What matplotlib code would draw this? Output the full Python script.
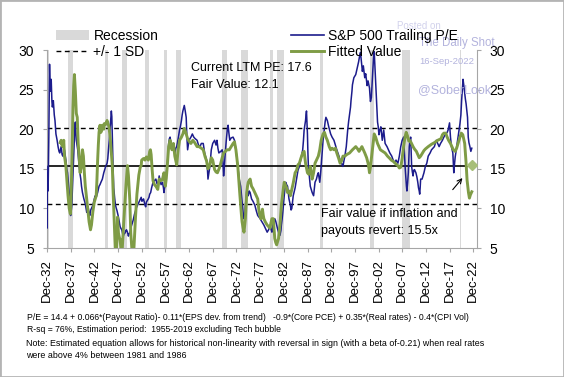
import numpy as np
import matplotlib
matplotlib.use("Agg")
import matplotlib.pyplot as plt
from matplotlib.patches import Patch, Rectangle
from matplotlib.lines import Line2D

plt.rcParams['font.family'] = ['Liberation Sans', 'DejaVu Sans']

# ---------------- data ----------------
pe_years = [1932.87, 1932.9, 1932.95, 1933.05, 1933.15, 1933.3, 1933.45, 1933.55, 1933.65, 1933.8,
            1933.95, 1934.05, 1934.25, 1934.45, 1934.6, 1934.8, 1935.05, 1935.25, 1935.45, 1935.6,
            1935.9, 1936.1, 1936.25, 1936.6, 1936.9, 1937.1, 1937.25, 1937.45, 1937.6, 1937.75,
            1937.9, 1938.05, 1938.15, 1938.3, 1938.4, 1938.55, 1938.65, 1938.8, 1938.9, 1939.0,
            1939.1, 1939.25, 1939.4, 1939.55, 1939.7, 1939.85, 1940.05, 1940.2, 1940.4, 1940.55,
            1940.7, 1940.9, 1941.05, 1941.3, 1941.45, 1941.6, 1941.8, 1941.95, 1942.15, 1942.3,
            1942.6, 1942.9, 1943.1, 1943.3, 1943.6, 1943.9, 1944.1, 1944.3, 1944.6, 1944.9,
            1945.1, 1945.3, 1945.6, 1945.75, 1945.9, 1946.05, 1946.2, 1946.35, 1946.5, 1946.6,
            1946.7, 1946.85, 1947.0, 1947.2, 1947.35, 1947.5, 1947.7, 1947.85, 1948.0, 1948.2,
            1948.35, 1948.5, 1948.7, 1948.85, 1949.0, 1949.2, 1949.4, 1949.55, 1949.7, 1949.9,
            1950.1, 1950.25, 1950.4, 1950.55, 1950.7, 1950.9, 1951.1, 1951.25, 1951.4, 1951.6,
            1951.8, 1952.1, 1952.4, 1952.6, 1952.8, 1952.95, 1953.1, 1953.3, 1953.45, 1953.6,
            1953.75, 1953.9, 1954.1, 1954.3, 1954.45, 1954.6, 1954.8, 1955.0, 1955.3, 1955.6,
            1955.9, 1956.1, 1956.3, 1956.6, 1956.8, 1957.0, 1957.3, 1957.5, 1957.6, 1957.8,
            1957.9, 1958.1, 1958.3, 1958.45, 1958.6, 1958.75, 1958.9, 1959.1, 1959.3, 1959.6,
            1959.9, 1960.1, 1960.3, 1960.6, 1960.9, 1961.1, 1961.3, 1961.45, 1961.6, 1961.8,
            1961.9, 1962.1, 1962.3, 1962.45, 1962.6, 1962.75, 1962.9, 1963.1, 1963.3, 1963.6,
            1963.9, 1964.2, 1964.6, 1964.9, 1965.2, 1965.5, 1965.9, 1966.2, 1966.6, 1966.8,
            1966.9, 1967.1, 1967.3, 1967.6, 1967.9, 1968.3, 1968.6, 1968.8, 1969.0, 1969.2,
            1969.6, 1969.9, 1970.05, 1970.2, 1970.35, 1970.5, 1970.75, 1971.0, 1971.15, 1971.3,
            1971.5, 1971.8, 1972.2, 1972.5, 1972.8, 1973.0, 1973.2, 1973.5, 1973.8, 1973.95,
            1974.1, 1974.3, 1974.5, 1974.7, 1974.8, 1975.0, 1975.1, 1975.4, 1975.6, 1975.8,
            1976.1, 1976.4, 1976.8, 1977.1, 1977.4, 1977.8, 1978.1, 1978.4, 1978.7, 1979.0,
            1979.4, 1979.7, 1980.0, 1980.2, 1980.4, 1980.55, 1980.7, 1981.0, 1981.2, 1981.4,
            1981.6, 1981.8, 1982.1, 1982.3, 1982.4, 1982.55, 1982.7, 1982.85, 1983.0, 1983.15,
            1983.3, 1983.5, 1983.7, 1983.85, 1984.0, 1984.15, 1984.3, 1984.45, 1984.6, 1984.75,
            1984.9, 1985.3, 1985.6, 1985.9, 1986.2, 1986.5, 1986.9, 1987.05, 1987.2, 1987.35,
            1987.5, 1987.6, 1987.7, 1987.8, 1987.9, 1988.0, 1988.1, 1988.3, 1988.5, 1988.7,
            1988.9, 1989.2, 1989.35, 1989.5, 1989.8, 1990.0, 1990.2, 1990.5, 1990.65, 1990.8,
            1991.0, 1991.2, 1991.35, 1991.5, 1991.65, 1991.8, 1992.1, 1992.4, 1992.8, 1993.1,
            1993.5, 1993.8, 1994.1, 1994.5, 1994.8, 1995.1, 1995.4, 1995.6, 1995.8, 1996.1,
            1996.4, 1996.6, 1996.8, 1997.0, 1997.1, 1997.3, 1997.4, 1997.7, 1998.1, 1998.4,
            1998.7, 1998.9, 1999.1, 1999.3, 1999.5, 1999.7, 2000.0, 2000.2, 2000.5, 2000.7,
            2001.0, 2001.2, 2001.4, 2001.55, 2001.7, 2001.85, 2002.0, 2002.1, 2002.25, 2002.4,
            2002.55, 2002.7, 2002.85, 2003.0, 2003.2, 2003.4, 2003.7, 2004.0, 2004.3, 2004.7,
            2005.0, 2005.3, 2005.7, 2006.0, 2006.3, 2006.6, 2007.0, 2007.3, 2007.6, 2007.9,
            2008.2, 2008.3, 2008.4, 2008.55, 2008.7, 2008.8, 2008.9, 2009.05, 2009.2, 2009.3,
            2009.4, 2009.55, 2009.7, 2009.8, 2009.9, 2010.05, 2010.2, 2010.35, 2010.5, 2010.8,
            2011.0, 2011.2, 2011.35, 2011.5, 2011.6, 2011.7, 2011.8, 2012.1, 2012.5, 2012.8,
            2013.1, 2013.4, 2013.8, 2014.1, 2014.4, 2014.7, 2015.1, 2015.4, 2015.7, 2016.0,
            2016.4, 2016.7, 2017.1, 2017.4, 2017.6, 2017.9, 2018.1, 2018.3, 2018.6, 2018.8,
            2018.95, 2019.1, 2019.4, 2019.7, 2020.1, 2020.3, 2020.45, 2020.6, 2020.75, 2020.9,
            2021.1, 2021.25, 2021.4, 2021.55, 2021.7, 2021.85, 2022.0, 2022.2, 2022.4, 2022.6]
pe_values = [15.3, 7.5, 12.5, 14.5, 12.2, 19.0, 28.2, 25.5, 24.8, 26.3,
             23.5, 22.8, 23.6, 21.8, 21.1, 19.4, 18.6, 17.8, 17.2, 17.0,
             17.8, 16.8, 16.6, 17.4, 16.1, 15.0, 14.5, 13.0, 12.0, 10.5,
             9.1, 9.8, 10.4, 12.8, 14.5, 17.0, 18.6, 20.5, 20.9, 19.8,
             18.6, 18.0, 17.4, 16.3, 15.3, 14.5, 13.7, 12.8, 12.0, 11.6,
             11.2, 10.8, 10.4, 9.5, 10.0, 10.2, 9.3, 9.1, 9.8, 10.0,
             10.4, 11.2, 11.6, 11.4, 12.0, 12.8, 13.0, 13.3, 13.7, 14.5,
             14.9, 15.3, 15.7, 16.3, 17.4, 18.6, 19.9, 21.2, 22.3, 21.6,
             19.0, 15.5, 12.6, 11.3, 10.5, 10.1, 9.7, 9.3, 8.9, 8.2,
             7.7, 7.5, 7.3, 6.9, 6.5, 6.8, 6.9, 7.2, 7.3, 7.0,
             6.5, 6.8, 6.9, 7.3, 7.7, 8.1, 8.5, 8.9, 9.3, 9.7,
             10.1, 10.5, 10.9, 11.2, 11.4, 10.9, 11.0, 11.2, 10.8, 10.4,
             10.2, 10.8, 11.0, 11.2, 11.4, 11.8, 12.0, 12.6, 13.3, 13.5,
             13.7, 13.2, 12.9, 14.1, 13.5, 13.0, 13.3, 12.6, 12.0, 12.8,
             13.7, 14.5, 15.3, 16.8, 18.2, 18.8, 19.0, 18.2, 17.6, 17.8,
             17.0, 17.6, 17.8, 18.8, 19.9, 20.4, 21.1, 21.8, 22.3, 22.8,
             23.0, 22.3, 21.5, 19.0, 17.4, 18.0, 18.6, 18.8, 19.0, 19.4,
             19.0, 18.8, 18.6, 18.0, 17.8, 18.2, 18.2, 17.0, 16.1, 14.8,
             13.7, 14.5, 15.3, 17.4, 18.2, 18.6, 18.0, 18.6, 17.6, 17.0,
             17.2, 17.4, 16.0, 14.1, 15.2, 16.6, 18.5, 20.1, 20.5, 19.6,
             18.6, 18.9, 19.0, 18.6, 17.4, 16.3, 15.3, 13.7, 12.8, 11.8,
             10.8, 9.6, 8.7, 9.2, 10.4, 11.5, 12.4, 11.6, 12.2, 12.0,
             11.2, 10.9, 10.4, 9.7, 9.1, 8.8, 8.5, 8.2, 7.9, 7.5,
             7.0, 7.3, 7.9, 7.4, 7.0, 7.6, 8.3, 8.7, 8.4, 7.9,
             7.4, 7.0, 6.6, 7.2, 7.9, 8.6, 9.5, 10.6, 11.6, 12.5,
             13.3, 13.0, 12.8, 12.0, 11.2, 10.8, 10.4, 9.8, 10.0, 10.8,
             11.6, 12.6, 13.7, 14.8, 15.3, 16.2, 17.4, 18.5, 19.9, 20.5,
             21.1, 21.8, 22.3, 20.8, 19.4, 17.0, 15.3, 14.0, 12.8, 12.4,
             12.0, 11.6, 12.5, 13.3, 13.7, 14.2, 14.5, 13.3, 14.2, 15.3,
             17.0, 18.6, 19.4, 20.2, 21.0, 21.5, 21.1, 20.3, 19.4, 19.0,
             18.6, 18.0, 17.4, 16.7, 16.1, 15.7, 15.3, 16.0, 16.6, 17.8,
             19.9, 21.0, 21.9, 22.8, 23.6, 24.8, 25.6, 26.5, 26.9, 27.7,
             28.5, 29.2, 29.7, 28.5, 27.3, 28.0, 26.5, 27.0, 25.5, 26.1,
             25.2, 23.5, 24.0, 25.8, 27.4, 29.0, 29.8, 28.5, 26.5, 24.5,
             22.8, 20.9, 20.3, 19.3, 19.9, 20.3, 18.6, 19.9, 18.2, 17.8,
             17.4, 17.0, 16.6, 16.1, 15.7, 16.1, 15.7, 16.6, 17.8, 18.6,
             19.0, 17.8, 16.6, 15.0, 13.7, 12.8, 12.2, 13.2, 14.5, 16.0,
             17.8, 18.6, 19.0, 17.2, 15.3, 14.6, 14.1, 14.8, 14.9, 14.5,
             14.0, 13.3, 12.6, 12.2, 11.8, 12.6, 13.7, 13.7, 14.5, 15.3,
             15.7, 16.6, 17.0, 17.4, 17.6, 17.8, 18.6, 18.2, 17.8, 18.2,
             18.6, 19.0, 19.4, 19.6, 19.9, 20.8, 19.0, 17.8, 17.0, 14.5,
             15.6, 16.5, 17.8, 19.0, 20.7, 21.8, 23.6, 25.0, 26.3, 25.6,
             24.5, 23.8, 23.2, 22.4, 21.5, 19.0, 18.3, 17.8, 17.2, 17.6]

fit_years = [1935.7, 1935.9, 1936.1, 1936.25, 1936.45, 1936.6, 1936.75, 1936.9, 1937.1, 1937.35,
             1937.6, 1937.85, 1938.0, 1938.2, 1938.4, 1938.55, 1938.7, 1938.8, 1938.9, 1939.1,
             1939.3, 1939.5, 1939.7, 1939.9, 1940.05, 1940.2, 1940.4, 1940.6, 1940.8, 1941.0,
             1941.15, 1941.5, 1941.8, 1942.1, 1942.3, 1942.6, 1942.9, 1943.3, 1943.45, 1943.6,
             1943.75, 1943.9, 1944.1, 1944.3, 1944.6, 1944.9, 1945.0, 1945.3, 1945.6, 1945.8,
             1946.0, 1946.3, 1946.5, 1946.7, 1946.85, 1947.0, 1947.2, 1947.35, 1947.55, 1947.7,
             1947.8, 1947.9, 1948.0, 1948.2, 1948.35, 1948.55, 1948.75, 1948.95, 1949.1, 1949.35,
             1949.6, 1949.9, 1950.1, 1950.4, 1950.6, 1950.9, 1951.2, 1951.4, 1951.6, 1951.9,
             1952.3, 1952.6, 1952.8, 1952.9, 1953.3, 1953.6, 1953.9, 1954.3, 1954.6, 1954.75,
             1954.9, 1955.1, 1955.3, 1955.6, 1955.9, 1956.3, 1956.6, 1957.0, 1957.3, 1957.6,
             1957.9, 1958.1, 1958.3, 1958.6, 1958.9, 1959.3, 1959.6, 1959.9, 1960.3, 1960.6,
             1960.9, 1961.3, 1961.6, 1961.9, 1962.1, 1962.3, 1962.6, 1963.0, 1963.3, 1963.7,
             1964.1, 1964.6, 1965.0, 1965.5, 1965.9, 1966.3, 1966.6, 1966.9, 1967.3, 1967.6,
             1967.9, 1968.3, 1968.6, 1968.9, 1969.3, 1969.6, 1969.9, 1970.2, 1970.6, 1970.9,
             1971.4, 1971.8, 1972.2, 1972.5, 1972.8, 1973.0, 1973.2, 1973.35, 1973.5, 1973.65,
             1973.8, 1973.95, 1974.1, 1974.3, 1974.5, 1974.65, 1974.8, 1974.95, 1975.1, 1975.25,
             1975.4, 1975.6, 1975.8, 1976.1, 1976.4, 1976.8, 1977.1, 1977.4, 1977.55, 1977.7,
             1977.9, 1978.1, 1978.25, 1978.4, 1978.55, 1978.7, 1979.0, 1979.4, 1979.7, 1980.0,
             1980.2, 1980.4, 1980.7, 1980.85, 1981.0, 1981.2, 1981.4, 1981.6, 1981.8, 1982.1,
             1982.25, 1982.4, 1982.55, 1982.7, 1982.85, 1983.0, 1983.3, 1983.5, 1983.7, 1984.0,
             1984.3, 1984.6, 1984.9, 1985.3, 1985.6, 1985.9, 1986.2, 1986.5, 1986.9, 1987.2,
             1987.5, 1987.9, 1988.2, 1988.5, 1988.9, 1989.2, 1989.5, 1989.9, 1990.2, 1990.5,
             1990.8, 1991.2, 1991.5, 1991.8, 1992.1, 1992.5, 1992.8, 1993.1, 1993.5, 1993.8,
             1994.1, 1994.5, 1994.8, 1995.1, 1995.4, 1995.8, 1996.2, 1996.8, 1997.4, 1998.1,
             1998.5, 1998.8, 1999.1, 1999.4, 2000.0, 2000.4, 2000.7, 2000.9, 2001.0, 2001.2,
             2001.4, 2001.7, 2002.0, 2002.3, 2002.7, 2003.0, 2003.3, 2003.8, 2004.3, 2004.8,
             2005.3, 2005.6, 2006.1, 2006.6, 2007.0, 2007.3, 2007.6, 2007.9, 2008.2, 2008.5,
             2008.75, 2009.0, 2009.3, 2009.5, 2009.8, 2010.2, 2010.5, 2010.9, 2011.2, 2011.5,
             2011.8, 2012.1, 2012.5, 2012.8, 2013.4, 2014.1, 2014.7, 2015.4, 2016.1, 2016.4,
             2016.7, 2017.1, 2017.4, 2017.7, 2018.1, 2018.4, 2018.7, 2019.1, 2019.4, 2019.7,
             2020.1, 2020.4, 2020.7, 2021.1, 2021.4, 2021.6, 2021.9, 2022.1, 2022.3, 2022.6]
fit_values = [18.3, 18.6, 17.9, 17.8, 18.6, 16.6, 16.0, 15.3, 13.7, 11.6,
              10.0, 9.3, 11.6, 16.6, 22.8, 25.5, 26.9, 25.8, 24.8, 22.0,
              21.5, 18.2, 16.6, 14.5, 14.9, 15.3, 17.4, 16.6, 14.5, 12.8,
              12.0, 10.0, 8.3, 7.3, 7.9, 9.6, 10.8, 11.6, 13.5, 16.0,
              18.0, 19.6, 20.5, 19.6, 20.5, 20.0, 20.7, 20.6, 21.1, 20.7,
              20.3, 18.6, 17.0, 15.4, 12.5, 10.1, 7.0, 4.5, 4.2, 6.0,
              8.9, 7.8, 6.9, 6.3, 6.1, 4.6, 4.3, 6.5, 8.1, 10.5,
              13.0, 15.4, 14.2, 11.0, 6.9, 4.3, 4.2, 6.5, 8.9, 11.8,
              14.2, 15.2, 15.4, 16.1, 16.3, 16.1, 16.5, 16.1, 17.2, 17.4,
              16.8, 15.0, 13.5, 13.0, 12.8, 12.4, 13.7, 13.5, 13.7, 14.5,
              12.8, 13.8, 15.3, 17.8, 18.6, 17.4, 18.2, 16.6, 15.5, 17.4,
              18.6, 19.0, 19.4, 20.1, 19.8, 19.4, 18.8, 18.4, 18.2, 18.6,
              18.3, 17.8, 17.8, 17.6, 17.4, 16.5, 16.0, 15.0, 15.5, 16.4,
              16.1, 14.9, 14.6, 14.5, 15.1, 15.7, 16.4, 17.0, 17.2, 17.4,
              17.4, 17.8, 18.2, 18.4, 17.4, 16.4, 15.3, 14.0, 12.8, 11.6,
              10.4, 9.3, 8.3, 7.6, 7.0, 7.8, 8.7, 10.5, 12.0, 12.8,
              13.3, 13.5, 13.7, 12.8, 12.5, 12.0, 11.6, 11.2, 10.3, 9.5,
              9.0, 8.7, 9.4, 9.9, 9.2, 8.7, 8.3, 7.9, 7.7, 7.5,
              8.2, 8.7, 8.7, 7.4, 6.2, 5.7, 5.4, 5.8, 6.2, 7.9,
              9.2, 10.4, 11.2, 12.0, 12.7, 13.3, 12.9, 12.6, 12.0, 12.2,
              11.6, 12.4, 13.2, 14.5, 14.8, 15.5, 15.7, 16.3, 17.0, 17.2,
              15.7, 14.5, 14.3, 15.3, 13.7, 14.5, 15.7, 16.2, 16.6, 17.4,
              18.6, 19.4, 19.6, 19.0, 18.6, 17.8, 17.4, 17.6, 17.4, 17.6,
              17.0, 16.3, 15.7, 16.0, 16.6, 16.6, 16.8, 17.0, 17.4, 17.8,
              17.5, 17.2, 17.5, 17.8, 17.0, 16.4, 15.7, 15.0, 14.5, 15.2,
              16.3, 17.8, 19.4, 19.0, 18.2, 17.8, 17.4, 17.2, 17.0, 16.6,
              16.3, 16.1, 15.9, 15.6, 15.4, 15.1, 15.2, 16.3, 17.8, 19.0,
              19.6, 19.2, 18.5, 18.6, 18.3, 17.8, 17.5, 17.2, 16.8, 16.4,
              16.6, 16.9, 17.3, 17.5, 17.8, 18.1, 18.3, 18.6, 18.8, 19.3,
              19.5, 19.5, 19.0, 18.6, 18.2, 17.8, 17.4, 17.2, 17.6, 18.2,
              19.0, 19.5, 19.3, 18.2, 15.7, 13.6, 12.0, 11.3, 11.7, 12.1]

revert_year = 2022.6
revert_value = 15.5
pe_mean = 15.3
pe_sd = 4.8

recession_starts = ["1929-08", "1937-05", "1945-02", "1948-11", "1953-07", "1957-08", "1960-04",
                    "1969-12", "1973-11", "1980-01", "1981-07", "1990-07", "2001-03", "2007-12",
                    "2020-02"]
recession_ends = ["1933-03", "1938-06", "1945-10", "1949-10", "1954-05", "1958-04", "1961-02",
                  "1970-11", "1975-03", "1980-07", "1982-11", "1991-03", "2001-11", "2009-06",
                  "2020-04"]

tick_labels = ["Dec-32", "Dec-37", "Dec-42", "Dec-47", "Dec-52", "Dec-57", "Dec-62", "Dec-67",
               "Dec-72", "Dec-77", "Dec-82", "Dec-87", "Dec-92", "Dec-97", "Dec-02", "Dec-07",
               "Dec-12", "Dec-17", "Dec-22"]


def ym(s):
    y, m = s.split("-")
    return int(y) + (int(m) - 1) / 12.0


def tick_year(lbl):
    yy = int(lbl.split("-")[1])
    return (1900 + yy if yy >= 30 else 2000 + yy) + 11 / 12.0


# ---------------- figure ----------------
W, H = 564, 377
fig = plt.figure(figsize=(W / 100, H / 100), dpi=100)
ax = fig.add_axes([46.7 / W, 1 - 248 / H, (477 - 46.7) / W, 198 / H])

NAVY = "#1c1c8c"
GREEN = "#7f9c46"
GREYBAR = "#d9d9d9"
SPINE = "#a6a6a6"

for s, e in zip(recession_starts, recession_ends):
    ax.axvspan(ym(s), ym(e) + 1 / 12.0, color=GREYBAR, lw=0, zorder=0)

ax.axhline(pe_mean, color="black", lw=1.2, zorder=1)
ax.axhline(pe_mean + pe_sd, color="black", lw=1.0, ls=(0, (3.5, 2.5)), zorder=1)
ax.axhline(pe_mean - pe_sd, color="black", lw=1.0, ls=(0, (3.5, 2.5)), zorder=1)

ax.plot(pe_years, pe_values, color=NAVY, lw=1.1, zorder=3)
ax.plot(fit_years, fit_values, color=GREEN, lw=2.1, zorder=4)
ax.plot([revert_year], [revert_value], marker="D", color="#a7be78", ms=5, zorder=5)

ax.annotate("", xy=(2021.0, 14.1), xytext=(2018.2, 12.1),
            arrowprops=dict(arrowstyle="->", color="black", lw=0.8, mutation_scale=8), zorder=6)

ax.set_xlim(1932.85, 2023.7)
ax.set_ylim(5, 30)

ax.set_xticks([tick_year(l) for l in tick_labels])
ax.set_xticklabels(tick_labels, rotation=90, fontsize=9.5)
ax.set_yticks([5, 10, 15, 20, 25, 30])
ax.tick_params(axis="y", which="both", left=True, right=True, labelleft=True, labelright=True,
               labelsize=10, length=3, color=SPINE, pad=4)
ax.tick_params(axis="y", which="both", right=True, pad=6)
ax.tick_params(axis="x", length=3, color=SPINE, pad=5, labelsize=9.5)
for side in ["left", "right", "bottom"]:
    ax.spines[side].set_color(SPINE)
ax.spines["top"].set_visible(False)

# annotations
ax.text(1963.4, 27.7, "Current LTM PE: 17.6", fontsize=9, va="center", ha="left")
ax.text(1963.4, 25.6, "Fair Value: 12.1", fontsize=9, va="center", ha="left")
ax.text(1990.8, 9.3, "Fair value if inflation and", fontsize=9, va="center", ha="left", zorder=7)
ax.text(1990.8, 7.1, "payouts revert: 15.5x", fontsize=9, va="center", ha="left", zorder=7)

# legends
h_left = [Patch(facecolor=GREYBAR, edgecolor="none"),
          Line2D([], [], color="black", lw=1.0, ls=(0, (3.5, 2.5)))]
leg1 = fig.legend(h_left, ["Recession", "+/- 1 SD"], loc="upper left",
                  bbox_to_anchor=(49 / W, 1 - 22 / H), frameon=False, fontsize=10,
                  handlelength=2.4, handletextpad=0.3, labelspacing=0.15, borderpad=0)
h_right = [Line2D([], [], color=NAVY, lw=1.2), Line2D([], [], color=GREEN, lw=2.1)]
leg2 = fig.legend(h_right, ["S&P 500 Trailing P/E", "Fitted Value"], loc="upper left",
                  bbox_to_anchor=(284 / W, 1 - 22 / H), frameon=False, fontsize=10,
                  handlelength=2.4, handletextpad=0.3, labelspacing=0.15, borderpad=0)

# watermark
wm = "#b3b3dd"
fig.text(397 / W, 1 - 26 / H, "Posted on", fontsize=7, color="#d2d2ec", va="center", ha="left")
fig.text(419 / W, 1 - 43 / H, "The Daily Shot", fontsize=8.3, color=wm, va="center", ha="left")
fig.text(419 / W, 1 - 61 / H, "16-Sep-2022", fontsize=6.8, color=wm, va="center", ha="left")
fig.text(418 / W, 1 - 90 / H, "@SoberLook", fontsize=9, color=wm, va="center", ha="left")

# bottom notes
fig.text(27 / W, 1 - 317 / H,
         "P/E = 14.4 + 0.066*(Payout Ratio)- 0.11*(EPS dev. from trend)   -0.9*(Core PCE) + 0.35*(Real rates) - 0.4*(CPI Vol)",
         fontsize=6.25, va="center", ha="left")
fig.text(27 / W, 1 - 330 / H, "R-sq = 76%, Estimation period:  1955-2019 excluding Tech bubble",
         fontsize=6.25, va="center", ha="left")
fig.text(26 / W, 1 - 343 / H,
         "Note: Estimated equation allows for historical non-linearity with reversal in sign (with a beta of-0.21) when real rates",
         fontsize=6.4, va="center", ha="left")
fig.text(26 / W, 1 - 355 / H, "were above 4% between 1981 and 1986",
         fontsize=6.4, va="center", ha="left")

fig.patches.append(Rectangle((0, 0), 1, 1, transform=fig.transFigure, fill=False,
                             edgecolor="#b4b4b4", lw=2))

fig.savefig("out.png", dpi=100)
